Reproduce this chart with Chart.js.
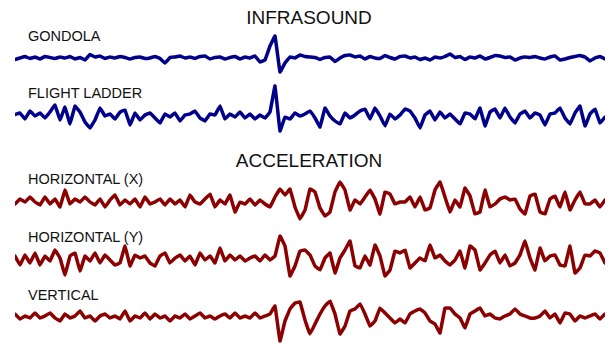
<!DOCTYPE html>
<html>
<head>
<meta charset="utf-8">
<script src="https://cdn.jsdelivr.net/npm/chart.js@4"></script>
<style>
  html, body { margin: 0; padding: 0; background: #fff; }
  #wrap { position: relative; width: 610px; height: 345px; overflow: hidden; font-family: "Liberation Sans", Arial, Helvetica, sans-serif; color: #111; }
  .title { position: absolute; font-size: 19px; line-height: 19px; white-space: nowrap; transform: translateX(-50%); }
  .label { position: absolute; left: 28px; font-size: 14.5px; line-height: 14.5px; white-space: nowrap; }
  canvas { position: absolute; left: 15px; }
</style>
</head>
<body>
<div id="wrap">
  <div class="title" style="left:309px; top:8px;">INFRASOUND</div>
  <div class="title" style="left:309px; top:151px;">ACCELERATION</div>
  <div class="label" style="top:29px;">GONDOLA</div>
  <div class="label" style="top:86px;">FLIGHT LADDER</div>
  <div class="label" style="top:172px;">HORIZONTAL (X)</div>
  <div class="label" style="top:230px;">HORIZONTAL (Y)</div>
  <div class="label" style="top:288px;">VERTICAL</div>
  <canvas id="gondola" width="590" height="50" style="top:28px"></canvas>
  <canvas id="ladder" width="590" height="55" style="top:81px"></canvas>
  <canvas id="horizX" width="590" height="50" style="top:177px"></canvas>
  <canvas id="horizY" width="590" height="50" style="top:233px"></canvas>
  <canvas id="vert" width="590" height="54" style="top:291px"></canvas>
</div>
<script>
// infrasound traces (relative amplitude)
const gondola = [
  -1.5, 0, 1.5, -0.5, 1, -1, 1.5, 0.5, -0.5, 1,
  0, 1.5, -1, 0.5, -2, 3.5, 1, 2, -0.5, 1,
  0, 1.5, 0.5, -1, 0.5, 1, -0.5, 0, 1.5, -0.5,
  -5, 0.5, 1, 2, 0, 1, -0.5, 1.5, 2, -1,
  0.5, 1, -1, 0.5, 1.5, -1, 1, 0, 2, -4,
  -2, 12, 22, -14, -5, 1, 0, 3, 1.5, 1,
  0.5, -1.5, 0.5, 1, -3.5, 0, 2.5, 3, 1, 2,
  -1, 1.5, 0, -0.5, 2.5, 0.5, -1, 1.5, 2, 0,
  1, -1.5, 0, -2, 1, 0, 1.5, 4, 0.5, 1.5,
  -1.5, 1, 0, 2, -1, 0.5, 2.5, 2, 0.5, 1,
  -2, 0, 1, 0.5, 1.5, 0, -1, 1, 2, -2,
  -1, 0.5, 1.5, 2.5, 1, -3, 0, 1.5, -1
];
const flightLadder = [
  1.5, 3, -3, 5, 0, 3, -2, 4, 11, -4,
  9, -8, 10, 4, -6, -12, -4, 8, 0, 2,
  -3, 4, 6, -9, 3, -4, 1, 3, -2, -7,
  2, -1, 3, -5, 1, 2, 5, -2, -5, 2,
  1, 10, -3, 2, -1, 4, -2, 2, -3, 1,
  -2, 4, 30, -15, -1, -3, 3, 0, 2, 5,
  -2, -11, 8, 0, -5, -8, 3, -2, 1, 5,
  7, -3, 8, 0, -10, 2, -3, 1, 7, 5,
  -2, -12, 1, 5, -4, 4, -2, 2, -3, -8,
  3, 2, -3, 8, -10, 4, 7, -2, 8, -1,
  -7, 2, 5, -2, 3, 1, -9, 2, 3, 8,
  -2, -8, 3, 10, -10, 2, 7, -7, -1
];
// acceleration traces (relative amplitude)
const horizontalX = [
  -2, 3, 0, 5, 0, -3, 5, -2, 3, -5,
  12, -2, 3, 0, 5, 0, -3, 3, -5, 2,
  7, -3, 2, -2, 3, -5, 5, -2, 0, 3,
  -3, 3, -2, 2, -5, 7, 0, -2, 3, 8,
  -5, 2, -2, 7, -10, 0, -2, 3, -3, 2,
  -2, -5, 5, 13, 7, 13, -5, -17, -8, 13,
  10, -6, -14, -10, 10, 20, 12, -8, 2, -2,
  5, 12, 3, -12, 10, 8, -2, 0, 0, 5,
  -5, 5, -8, -6, 12, 20, 5, -10, 2, -5,
  14, 6, -12, -10, 12, -5, -2, 3, 5, 2,
  3, -7, -12, 6, 8, -10, -12, 3, 6, -5,
  10, -8, 2, 10, -2, -2, 2, -5, 2
];
const horizontalY = [
  2, -7, 3, -5, 5, -7, 2, -3, 8, 0,
  -17, 2, 5, -13, 2, -3, 5, -5, 3, -2,
  -7, -5, 12, -8, 3, 0, 2, -5, -8, 2,
  5, -5, 0, 3, -3, 2, -7, 5, -2, 2,
  -5, 10, -3, 3, -2, 2, -3, 0, 2, -3,
  3, -2, 2, 22, 12, -18, -8, 7, 8, 3,
  -8, -12, 0, 5, -15, 0, 8, 17, -8, -10,
  2, -7, 13, 2, -18, -12, 7, 5, 8, -10,
  -5, 0, -3, 13, 0, 3, -3, -7, -2, 7,
  -10, 12, 8, -12, -5, 3, 7, -5, 3, -8,
  -5, 3, 17, 0, -12, 10, -3, 2, 3, -7,
  -8, 12, -15, -10, 3, 2, 7, 5, -5
];
const vertical = [
  2, -3, 0, -2, 3, -2, 0, 3, -2, -5,
  2, -2, 0, 5, -2, 0, -5, 0, 2, -2,
  0, -3, 5, -5, 0, -2, 3, -3, 2, -2,
  0, -5, 0, -2, 2, -3, 0, 3, -2, 0,
  -3, 0, 2, -2, 3, -2, 0, -2, 3, -2,
  0, 2, 10, -25, -5, 7, 13, 14, -4, -18,
  -8, 2, 10, 15, 2, -18, -10, 5, 7, 12,
  2, -10, -5, 8, 3, -2, -7, -3, -7, 2,
  5, 7, 3, -5, -8, -17, 8, 8, 2, -2,
  -12, 2, 5, 8, 0, 2, -2, -3, 0, 2,
  7, 2, 0, -2, -2, 0, 5, -2, 2, -7,
  3, 2, -5, 0, -2, 0, 2, -3, 2
];
const samples = gondola.map((v, i) => i);

const blue = '#00008b';
const red = '#8b0000';

function mountTrace (id, values, color, min, max) {
    let ctx = document.getElementById(id).getContext('2d');
    return new Chart(ctx, {
        type: 'line',
        data: {
            labels: samples,
            datasets: [{
                data: values,
                borderColor: color,
                borderWidth: 3.5,
                borderJoinStyle: 'round',
                borderCapStyle: 'round',
                pointRadius: 0,
                tension: 0.05,
                fill: false,
                clip: false
            }]
        },
        options: {
            responsive: false,
            animation: false,
            layout: { padding: 0 },
            plugins: { legend: { display: false }, tooltip: { enabled: false } },
            scales: {
                x: { display: false, offset: false },
                y: { display: false, min, max }
            }
        }
    });
}

mountTrace('gondola', gondola, blue, -20, 30);
mountTrace('ladder', flightLadder, blue, -20, 35);
mountTrace('horizX', horizontalX, red, -25, 25);
mountTrace('horizY', horizontalY, red, -25, 25);
mountTrace('vert', vertical, red, -29, 25);
</script>
</body>
</html>
